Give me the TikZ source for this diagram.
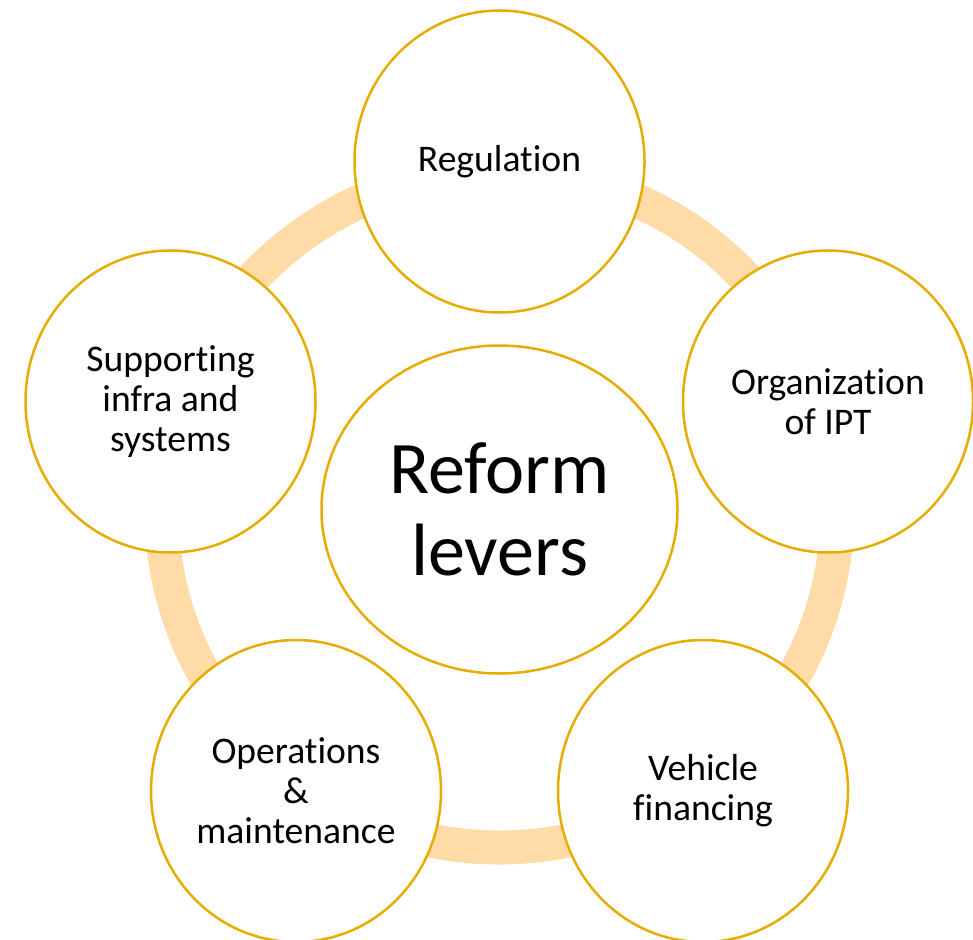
\documentclass[tikz,border=0pt]{standalone}
\usepackage{fontspec}
\setmainfont[Ligatures=NoCommon]{Carlito}
\usepackage{tikz}
\usetikzlibrary{positioning, shapes.geometric}
\definecolor{levergold}{RGB}{230,173,0}
\definecolor{ringpeach}{RGB}{255,219,168}
\tikzset{
    lever/.style={ellipse, draw=levergold, fill=white, line width=0.5mm, minimum width=58mm, minimum height=60.4mm, inner sep=0pt, align=center, font=\fontsize{21.4}{22.7}\selectfont},
    hub/.style={ellipse, draw=levergold, fill=white, line width=0.5mm, minimum width=71.2mm, minimum height=65.6mm, inner sep=0pt, align=center, font=\fontsize{42.2}{47}\selectfont},
    ring/.style={draw=ringpeach, line width=6.8mm},
}

\begin{document}
\begin{tikzpicture}[x=0.2mm, y=-0.2mm]
    \useasboundingbox (0,0) rectangle (973,940);
    \coordinate (c) at (499.5,509.5);
    % background ring
    \draw[ring] (c) circle[radius=67.6mm];
    \node [hub] (reform) at (c) {Reform\\levers};
    \node [lever] (reg) at (499.5,161.5) {Regulation};
    \node [lever] (org) at (828,401.5) {Organization\\of IPT};
    \node [lever] (fin) at (703,791) {Vehicle\\financing};
    \node [lever] (ops) at (296,791) {Operations\\\&\\maintenance};
    \node [lever] (infra) at (170.5,401.5) {Supporting\\infra and\\systems};
\end{tikzpicture}
\end{document}
